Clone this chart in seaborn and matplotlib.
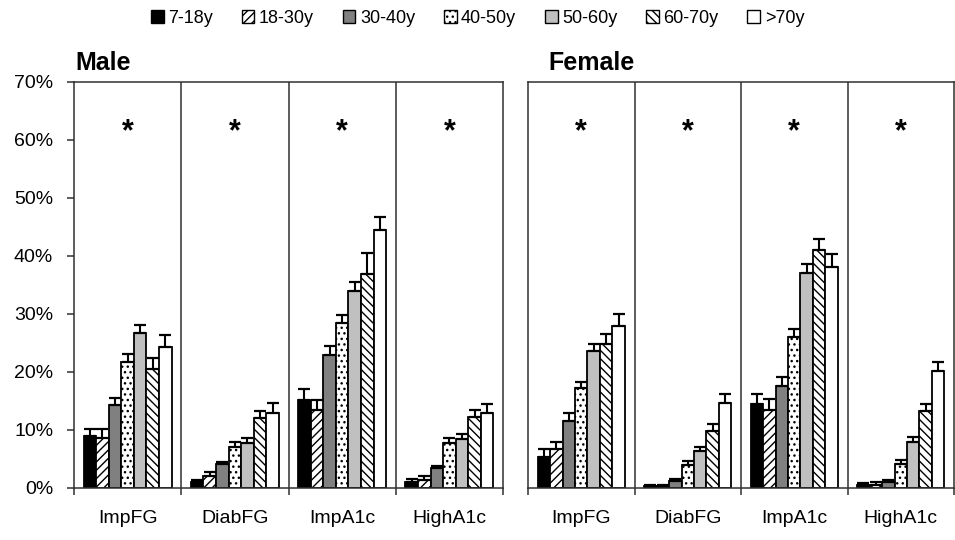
import numpy as np
import pandas as pd
import matplotlib
matplotlib.use("Agg")
import matplotlib.pyplot as plt
from matplotlib.patches import Patch
import seaborn as sns

# ── Global Style ─────────────────────────────────────────────
sns.set_theme(style="white")
plt.rcParams["font.family"] = ["Liberation Sans", "DejaVu Sans"]
plt.rcParams["hatch.linewidth"] = 1.0
plt.rcParams["text.color"] = "black"
plt.rcParams["xtick.color"] = "black"
plt.rcParams["ytick.color"] = "black"

# ── Data ─────────────────────────────────────────────────────
measures = ["ImpFG", "DiabFG", "ImpA1c", "HighA1c"]
ages = ["7-18y", "18-30y", "30-40y", "40-50y", "50-60y", "60-70y", ">70y"]

male_vals = {
    "7-18y":  [9.0, 1.1, 15.2, 1.1],
    "18-30y": [8.6, 2.1, 13.4, 1.3],
    "30-40y": [14.3, 4.1, 23.0, 3.4],
    "40-50y": [21.7, 7.0, 28.4, 7.7],
    "50-60y": [26.7, 7.8, 33.9, 8.4],
    "60-70y": [20.5, 12.1, 36.9, 12.3],
    ">70y":   [24.3, 13.0, 44.5, 12.9],
}
male_errs = {
    "7-18y":  [1.2, 0.3, 1.8, 0.4],
    "18-30y": [1.5, 0.6, 1.8, 0.7],
    "30-40y": [1.2, 0.4, 1.55, 0.4],
    "40-50y": [1.4, 0.9, 1.5, 0.9],
    "50-60y": [1.4, 0.9, 1.55, 0.9],
    "60-70y": [1.9, 1.2, 3.6, 1.2],
    ">70y":   [2.0, 1.7, 2.3, 1.6],
}
female_vals = {
    "7-18y":  [5.4, 0.4, 14.4, 0.45],
    "18-30y": [6.7, 0.4, 13.5, 0.6],
    "30-40y": [11.6, 1.15, 17.6, 1.0],
    "40-50y": [17.2, 4.0, 26.0, 4.1],
    "50-60y": [23.6, 6.4, 37.1, 7.9],
    "60-70y": [24.9, 9.8, 41.0, 13.2],
    ">70y":   [27.9, 14.6, 38.1, 20.1],
}
female_errs = {
    "7-18y":  [1.3, 0.2, 1.8, 0.4],
    "18-30y": [1.3, 0.2, 1.8, 0.5],
    "30-40y": [1.3, 0.4, 1.55, 0.45],
    "40-50y": [1.1, 0.6, 1.4, 0.75],
    "50-60y": [1.3, 0.75, 1.5, 0.85],
    "60-70y": [1.6, 1.15, 1.9, 1.3],
    ">70y":   [2.1, 1.6, 2.2, 1.7],
}

face_colors = ["black", "white", "#808080", "white", "#c0c0c0", "white", "white"]
hatches = [None, "////", None, "...", None, "\\\\\\\\", None]
line_col = "#303030"


def to_long(vals):
    rows = []
    for a in ages:
        for m, v in zip(measures, vals[a]):
            rows.append({"measure": m, "age": a, "pct": v})
    return pd.DataFrame(rows)


def draw_panel(ax, vals, errs, show_y):
    df = to_long(vals)
    sns.barplot(data=df, x="measure", y="pct", hue="age", order=measures,
                hue_order=ages, palette=dict(zip(ages, face_colors)),
                width=0.82, edgecolor="black", linewidth=1.3,
                errorbar=None, legend=False, ax=ax)
    bar_conts = list(ax.containers)
    for i, cont in enumerate(bar_conts):
        a = ages[i]
        for bar, e in zip(cont, errs[a]):
            if hatches[i]:
                bar.set_hatch(hatches[i])
            ax.errorbar(bar.get_x() + bar.get_width() / 2, bar.get_height(),
                        yerr=[[0], [e]], fmt="none", ecolor="black",
                        elinewidth=1.5, capsize=4.5, capthick=1.6, zorder=5)
    for xv in [0.5, 1.5, 2.5]:
        ax.axvline(xv, color=line_col, lw=1.1, zorder=1)
    for m_i in range(len(measures)):
        ax.text(m_i, 60, "*", ha="center", va="baseline",
                fontsize=22, fontweight="bold")
    ax.set_xlim(-0.5, 3.5)
    ax.set_ylim(0, 70)
    ax.set_xlabel("")
    ax.set_ylabel("")
    ax.set_xticks(range(len(measures)))
    ax.set_xticklabels(measures, fontsize=14)
    ax.set_xticks([-0.5, 0.5, 1.5, 2.5, 3.5], minor=True)
    ax.tick_params(axis="x", which="major", length=0, pad=16)
    ax.tick_params(axis="x", which="minor", length=5, width=1.1,
                   color=line_col, direction="out", bottom=True)
    ax.set_yticks(np.arange(0, 71, 10))
    if show_y:
        ax.set_yticklabels([f"{v}%" for v in range(0, 71, 10)], fontsize=14)
        ax.tick_params(axis="y", length=5, width=1.1, color=line_col,
                       direction="out", left=True, pad=10)
    else:
        ax.tick_params(axis="y", length=0, labelleft=False)
    for sp in ax.spines.values():
        sp.set_visible(True)
        sp.set_color(line_col)
        sp.set_linewidth(1.1)


fig = plt.figure(figsize=(9.55, 5.4), dpi=100)
ax_m = fig.add_axes([74 / 955, 52 / 540, 429 / 955, 406 / 540])
ax_f = fig.add_axes([528 / 955, 52 / 540, 426 / 955, 406 / 540])

draw_panel(ax_m, male_vals, male_errs, True)
draw_panel(ax_f, female_vals, female_errs, False)

fig.text(75 / 955, (540 - 70) / 540, "Male", fontsize=18,
         fontweight="bold", ha="left", va="baseline")
fig.text(548 / 955, (540 - 70) / 540, "Female", fontsize=18,
         fontweight="bold", ha="left", va="baseline")

handles = [Patch(facecolor=c, edgecolor="black", hatch=h, label=a, linewidth=1.0)
           for a, c, h in zip(ages, face_colors, hatches)]
fig.legend(handles=handles, loc="upper center", bbox_to_anchor=(0.5, 1.012),
           ncol=7, frameon=False, fontsize=13, handlelength=0.7,
           handleheight=0.7, handletextpad=0.25, columnspacing=1.6)

plt.savefig("out.png", dpi=100)
